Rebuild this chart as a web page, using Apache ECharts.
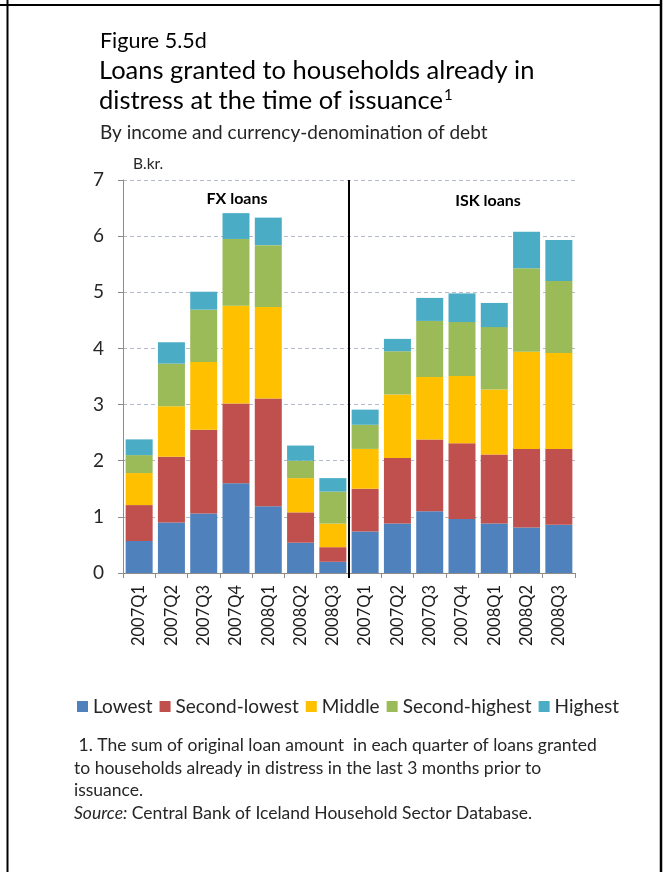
<!DOCTYPE html>
<html>
<head>
<meta charset="utf-8">
<script src="https://cdn.jsdelivr.net/npm/echarts@6/dist/echarts.min.js"></script>
<style>
  html, body { margin: 0; padding: 0; background: #fff; }
  #chart { width: 667px; height: 872px; }
</style>
</head>
<body>
<div id="chart"></div>
<script>
// Quarters: first seven are FX loans, last seven are ISK loans
var categories = ['2007Q1', '2007Q2', '2007Q3', '2007Q4', '2008Q1', '2008Q2', '2008Q3',
                  '2007Q1', '2007Q2', '2007Q3', '2007Q4', '2008Q1', '2008Q2', '2008Q3'];

// Income groups (B.kr.)
var lowest        = [0.57, 0.90, 1.06, 1.60, 1.19, 0.54, 0.20,  0.74, 0.88, 1.10, 0.96, 0.88, 0.81, 0.86];
var secondLowest  = [0.64, 1.17, 1.49, 1.42, 1.92, 0.54, 0.26,  0.76, 1.17, 1.28, 1.35, 1.23, 1.40, 1.35];
var middle        = [0.57, 0.90, 1.21, 1.74, 1.63, 0.61, 0.42,  0.71, 1.13, 1.11, 1.20, 1.16, 1.73, 1.71];
var secondHighest = [0.32, 0.76, 0.93, 1.19, 1.10, 0.31, 0.57,  0.43, 0.77, 1.00, 0.96, 1.11, 1.49, 1.28];
var highest       = [0.28, 0.38, 0.32, 0.46, 0.49, 0.27, 0.24,  0.27, 0.22, 0.41, 0.51, 0.43, 0.65, 0.73];

var seriesNames = ['Lowest', 'Second-lowest', 'Middle', 'Second-highest', 'Highest'];
var seriesData = [lowest, secondLowest, middle, secondHighest, highest];
var colors = ['#4F81BD', '#C0504D', '#FFC000', '#9BBB59', '#4BACC6'];

var yTicks = [0, 1, 2, 3, 4, 5, 6, 7];

// number of FX quarters: the divider sits after them
var fxCount = 7;

var FONT = 'Lato, "Open Sans", sans-serif';

var chart = echarts.init(document.getElementById('chart'), null, { renderer: 'canvas' });

var series = seriesNames.map(function (name, i) {
  return {
    name: name,
    type: 'bar',
    stack: 'total',
    barWidth: 27,
    xAxisIndex: 0,
    yAxisIndex: 0,
    itemStyle: { color: colors[i] },
    data: seriesData[i]
  };
});

// Divider between the FX and ISK groups, drawn on a hidden value axis spanning the categories
series.push({
  name: 'divider',
  type: 'line',
  xAxisIndex: 1,
  yAxisIndex: 0,
  symbol: 'none',
  silent: true,
  clip: false,
  lineStyle: { color: '#000', width: 2 },
  data: [[fxCount, yTicks[0] - 0.09], [fxCount, yTicks[yTicks.length - 1]]]
});

var option = {
  animation: false,
  textStyle: { fontFamily: FONT },
  grid: { left: 123, top: 180, width: 452, height: 393, containLabel: false },
  xAxis: [{
    type: 'category',
    data: categories,
    boundaryGap: true,
    axisLine: { show: true, lineStyle: { color: '#8c8c8c', width: 1 } },
    axisTick: { show: true, length: 5, lineStyle: { color: '#8c8c8c' } },
    axisLabel: { rotate: 90, fontSize: 16.5, color: '#1a1a1a', margin: 12, fontFamily: FONT },
    splitLine: { show: false }
  }, {
    type: 'value',
    min: 0,
    max: categories.length,
    show: false
  }],
  yAxis: {
    type: 'value',
    min: yTicks[0],
    max: yTicks[yTicks.length - 1],
    interval: 1,
    name: 'B.kr.',
    nameLocation: 'end',
    nameGap: 8,
    nameTextStyle: { fontSize: 15.5, color: '#262626', align: 'left', padding: [0, 0, 0, 10], fontFamily: FONT },
    axisLine: { show: true, lineStyle: { color: '#8c8c8c', width: 1 } },
    axisTick: { show: true, length: 5, lineStyle: { color: '#8c8c8c' } },
    axisLabel: { fontSize: 19, color: '#262626', margin: 19, fontFamily: FONT },
    splitLine: { show: true, lineStyle: { color: '#b4bccb', type: [4, 3], width: 1 } }
  },
  legend: {
    data: seriesNames,
    left: 72,
    top: 692,
    icon: 'rect',
    itemWidth: 11,
    itemHeight: 11,
    itemGap: 7,
    textStyle: { fontSize: 19, color: '#262626', padding: [0, 0, 0, 0], fontFamily: FONT },
    selectedMode: false
  },
  graphic: [
    // page frame
    { type: 'line', shape: { x1: 7.5, y1: 0, x2: 7.5, y2: 872 }, style: { stroke: '#000', lineWidth: 2 } },
    { type: 'line', shape: { x1: 0, y1: 5, x2: 662, y2: 5 }, style: { stroke: '#000', lineWidth: 2 } },
    { type: 'line', shape: { x1: 661, y1: 0, x2: 661, y2: 872 }, style: { stroke: '#000', lineWidth: 2.5 } },
    // headings
    { type: 'text', left: 100, top: 30, style: { text: 'Figure 5.5d', font: '21.5px ' + FONT, fill: '#000' } },
    { type: 'text', left: 99, top: 58, style: { text: 'Loans granted to households already in', font: '25.5px ' + FONT, fill: '#000' } },
    { type: 'text', left: 99, top: 88, style: {
        text: '{a|distress at the time of issuance}{s|1}',
        rich: {
          a: { font: '25.5px ' + FONT, fill: '#000', verticalAlign: 'bottom' },
          s: { font: '15px ' + FONT, fill: '#000', verticalAlign: 'top', padding: [0, 0, 10, 1] }
        }
      } },
    { type: 'text', left: 100, top: 123, style: { text: 'By income and currency-denomination of debt', font: '19px ' + FONT, fill: '#262626' } },
    // group labels
    { type: 'text', x: 237, y: 199, style: { text: 'FX loans', font: 'bold 16px ' + FONT, fill: '#000', align: 'center', verticalAlign: 'middle' } },
    { type: 'text', x: 488, y: 201, style: { text: 'ISK loans', font: 'bold 16px ' + FONT, fill: '#000', align: 'center', verticalAlign: 'middle' } },
    // footnote
    { type: 'text', left: 74, top: 734, style: {
        text: ' 1. The sum of original loan amount  in each quarter of loans granted\nto households already in distress in the last 3 months prior to\nissuance.\n{i|Source:} Central Bank of Iceland Household Sector Database.',
        font: '17.5px ' + FONT,
        lineHeight: 22.7,
        fill: '#262626',
        rich: { i: { font: 'italic 17.5px ' + FONT, fill: '#262626' } }
      } }
  ],
  series: series
};

chart.setOption(option);
</script>
</body>
</html>
